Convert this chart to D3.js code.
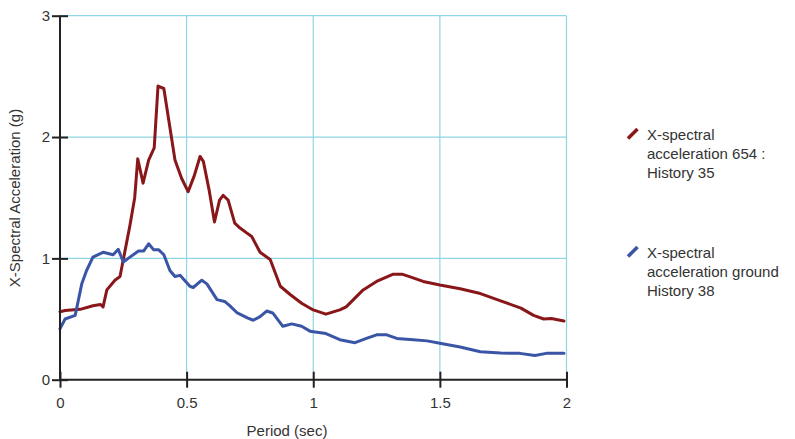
<!DOCTYPE html>
<html><head><meta charset="utf-8">
<script src="https://cdn.jsdelivr.net/npm/d3@7"></script>
<style>body{margin:0;background:#fff;} text{font-family:"Liberation Sans",Arial,sans-serif;}</style>
</head><body>
<svg id="c" width="795" height="439"></svg>
<script>
const xTicks = [0, 0.5, 1, 1.5, 2];
const yTicks = [0, 1, 2, 3];
const seriesNames = [["X-spectral", "acceleration 654 :", "History 35"], ["X-spectral", "acceleration ground", "History 38"]];
const seriesColors = ["#891619", "#3a55a6"];

const redX = [0, 0.02, 0.08, 0.13, 0.16, 0.17, 0.185, 0.217, 0.237, 0.25, 0.276, 0.295, 0.307, 0.328, 0.35, 0.372, 0.387, 0.41, 0.454, 0.48, 0.506, 0.53, 0.553, 0.566, 0.59, 0.61, 0.63, 0.644, 0.664, 0.69, 0.711, 0.737, 0.757, 0.79, 0.83, 0.87, 0.91, 0.954, 1.0, 1.05, 1.105, 1.13, 1.197, 1.25, 1.316, 1.35, 1.38, 1.434, 1.5, 1.58, 1.66, 1.74, 1.82, 1.87, 1.91, 1.94, 1.99];
const redY = [0.56, 0.57, 0.58, 0.61, 0.62, 0.60, 0.74, 0.82, 0.85, 0.99, 1.27, 1.5, 1.82, 1.62, 1.81, 1.91, 2.42, 2.40, 1.81, 1.66, 1.55, 1.68, 1.84, 1.80, 1.55, 1.30, 1.48, 1.52, 1.48, 1.29, 1.25, 1.21, 1.18, 1.05, 0.99, 0.77, 0.70, 0.63, 0.575, 0.54, 0.575, 0.60, 0.74, 0.81, 0.87, 0.87, 0.85, 0.81, 0.78, 0.75, 0.71, 0.65, 0.59, 0.53, 0.50, 0.505, 0.484];

const blueX = [0, 0.02, 0.06, 0.086, 0.105, 0.13, 0.17, 0.21, 0.23, 0.25, 0.276, 0.31, 0.33, 0.35, 0.37, 0.39, 0.41, 0.434, 0.454, 0.474, 0.513, 0.526, 0.56, 0.58, 0.62, 0.65, 0.67, 0.70, 0.74, 0.763, 0.79, 0.816, 0.84, 0.88, 0.915, 0.954, 0.987, 1.05, 1.105, 1.165, 1.21, 1.25, 1.29, 1.33, 1.395, 1.45, 1.5, 1.58, 1.66, 1.74, 1.816, 1.875, 1.92, 1.99];
const blueY = [0.42, 0.50, 0.53, 0.79, 0.90, 1.01, 1.05, 1.03, 1.075, 0.97, 1.01, 1.06, 1.06, 1.12, 1.07, 1.07, 1.03, 0.90, 0.85, 0.86, 0.77, 0.76, 0.82, 0.79, 0.66, 0.645, 0.61, 0.55, 0.51, 0.49, 0.52, 0.566, 0.55, 0.44, 0.46, 0.44, 0.40, 0.38, 0.33, 0.305, 0.34, 0.37, 0.37, 0.34, 0.33, 0.32, 0.30, 0.27, 0.23, 0.22, 0.217, 0.20, 0.217, 0.217];

const svg = d3.select("#c");
const x = d3.scaleLinear().domain([0, 2]).range([60, 566.5]);
const y = d3.scaleLinear().domain([0, 3]).range([379.7, 15.7]);

// grid
const grid = svg.append("g").attr("stroke", "#8fd6e4").attr("stroke-width", 1.2);
grid.selectAll(".gx").data(xTicks.filter(d => d > 0)).join("line")
  .attr("x1", d => x(d)).attr("x2", d => x(d)).attr("y1", y(0)).attr("y2", y(3));
grid.selectAll(".gy").data(yTicks.filter(d => d > 0)).join("line")
  .attr("x1", x(0)).attr("x2", x(2)).attr("y1", d => y(d)).attr("y2", d => y(d));

// lines
const line = d3.line().x(d => x(d[0])).y(d => y(d[1]));
const redData = d3.zip(redX, redY), blueData = d3.zip(blueX, blueY);
[[redData, seriesColors[0]], [blueData, seriesColors[1]]].forEach(([data, col]) => {
  svg.append("path").datum(data).attr("d", line).attr("fill", "none")
    .attr("stroke", col).attr("stroke-width", 3).attr("stroke-linejoin", "round").attr("stroke-linecap", "round");
});

// axes
const xAxis = svg.append("g").attr("transform", `translate(0,${y(0)})`)
  .call(d3.axisBottom(x).tickValues(xTicks).tickFormat(d3.format("")).tickSize(8).tickPadding(10));
const yAxis = svg.append("g").attr("transform", `translate(${x(0)},0)`)
  .call(d3.axisLeft(y).tickValues(yTicks).tickFormat(d3.format("")).tickSize(8).tickPadding(2));
[xAxis, yAxis].forEach(a => {
  a.select(".domain").attr("stroke", "#222").attr("stroke-width", 2);
  a.selectAll(".tick line").attr("stroke", "#222").attr("stroke-width", 2);
  a.selectAll(".tick text").attr("fill", "#333").style("font-size", "15px").style("font-family", "Liberation Sans, Arial, sans-serif");
});
xAxis.selectAll(".tick line").attr("y1", -8).attr("y2", 8);
yAxis.selectAll(".tick line").attr("x1", -8).attr("x2", 8);
xAxis.select(".domain").attr("d", `M${x(0)},0H${x(2)}`);
yAxis.select(".domain").attr("d", `M0,${y(0)}V${y(3)}`);

// axis titles
svg.append("text").attr("x", 287).attr("y", 436).attr("text-anchor", "middle")
  .attr("fill", "#333").style("font-size", "15px").text("Period (sec)");
svg.append("text").attr("transform", `translate(20,198) rotate(-90)`).attr("text-anchor", "middle")
  .attr("fill", "#333").style("font-size", "15px").text("X-Spectral Acceleration (g)");

// legend
const legTop = [128, 246];
seriesNames.forEach((lines, i) => {
  const g = svg.append("g");
  g.append("line").attr("x1", 628).attr("y1", legTop[i] + 10.5).attr("x2", 637.5).attr("y2", legTop[i] + 1)
    .attr("stroke", seriesColors[i]).attr("stroke-width", 3.5);
  lines.forEach((t, j) => {
    g.append("text").attr("x", 647).attr("y", legTop[i] + 11.5 + j * 19).attr("fill", "#333")
      .style("font-size", "15px").text(t);
  });
});
</script>
</body></html>
